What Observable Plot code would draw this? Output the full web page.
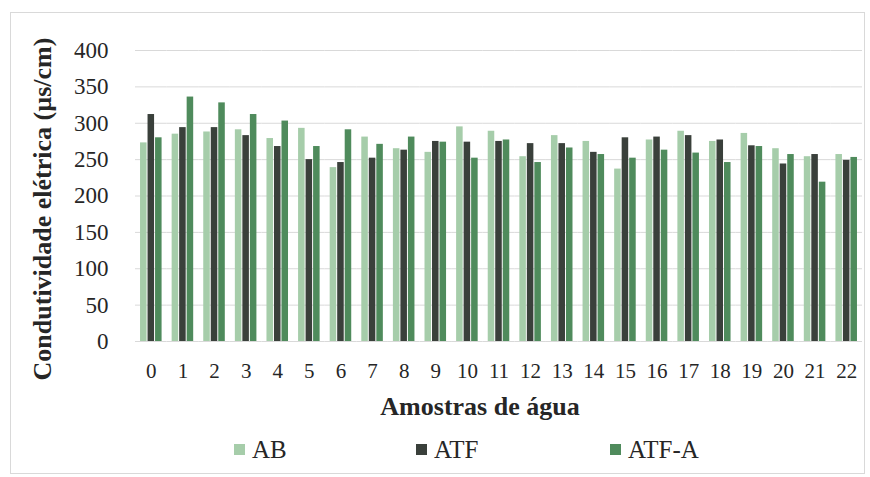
<!DOCTYPE html>
<html>
<head>
<meta charset="utf-8">
<script src="https://cdn.jsdelivr.net/npm/d3@7"></script>
<script src="https://cdn.jsdelivr.net/npm/@observablehq/plot@0.6"></script>
<style>
  html, body { margin: 0; padding: 0; background: #fff; }
  #chart {
    position: relative; width: 870px; height: 477px; overflow: hidden;
    font-family: "Liberation Serif", "DejaVu Serif", serif; color: #262626;
  }
  #frame {
    position: absolute; left: 10px; top: 12px; width: 855px; height: 462px;
    border: 1px solid #d9d9d9; box-sizing: border-box;
  }
  #plot { position: absolute; left: 0; top: 0; }
  #plot svg { font-family: "Liberation Serif", "DejaVu Serif", serif; }
  #plot g[aria-label^="y-axis"] text { font-size: 23px; fill: #262626; }
  #plot g[aria-label^="fx-axis"] text { font-size: 21px; fill: #262626; }
  #ylabel {
    position: absolute; left: 43px; top: 209px; white-space: nowrap;
    transform: translate(-50%, -50%) rotate(-90deg);
    font-weight: bold; font-size: 26px; line-height: 1;
  }
  #xlabel {
    position: absolute; left: 480px; top: 407px; transform: translate(-50%, -50%);
    font-weight: bold; font-size: 26px; line-height: 1; white-space: nowrap;
  }
  #legend {
    position: absolute; left: 234px; top: 437px; display: flex; align-items: center;
    font-size: 25px; line-height: 25px;
  }
  #legend .item { display: flex; align-items: center; }
  #legend .sw { width: 11px; height: 11px; margin-right: 7px; }
</style>
</head>
<body>
<div id="chart">
  <div id="frame"></div>
  <div id="plot"></div>
  <div id="ylabel">Condutividade elétrica (µs/cm)</div>
  <div id="xlabel">Amostras de água</div>
  <div id="legend"></div>
</div>
<script>
// Water samples 0–22 and their electrical conductivity (µs/cm) per treatment
const samples = d3.range(0, 23);
const seriesNames = ["AB", "ATF", "ATF-A"];
const valuesAB   = [273, 285, 288, 291, 279, 293, 239, 281, 265, 260, 295, 289, 254, 283, 275, 237, 277, 289, 275, 286, 265, 254, 257];
const valuesATF  = [312, 294, 294, 283, 268, 250, 246, 252, 263, 275, 274, 275, 272, 272, 260, 280, 281, 283, 277, 269, 244, 257, 249];
const valuesATFA = [280, 336, 328, 312, 303, 268, 291, 271, 281, 274, 252, 277, 246, 266, 257, 252, 263, 259, 246, 268, 257, 219, 253];
const yTicks = [0, 50, 100, 150, 200, 250, 300, 350, 400];
const colors = ["#a6cdaa", "#3a403b", "#4f8b5c"];

const bySeries = [valuesAB, valuesATF, valuesATFA];
const rows = [];
samples.forEach((s, i) => {
  seriesNames.forEach((name, k) => rows.push({sample: s, series: name, value: bySeries[k][i]}));
});

const chart = Plot.plot({
  width: 870,
  height: 390,
  marginLeft: 135,
  marginRight: 8,
  marginTop: 50,
  marginBottom: 49,
  fx: {domain: samples, padding: 0, round: false, axis: "bottom", tickSize: 0, tickPadding: 22, label: null},
  x: {domain: seriesNames, paddingInner: 0.13, paddingOuter: 0.67, round: false, axis: null},
  y: {domain: [0, 400], ticks: yTicks, tickSize: 0, tickPadding: 27, label: null},
  color: {domain: seriesNames, range: colors},
  marks: [
    Plot.ruleY(yTicks, {stroke: "#d9d9d9", strokeWidth: 1}),
    Plot.barY(rows, {fx: "sample", x: "series", y: "value", fill: "series"})
  ]
});
document.getElementById("plot").appendChild(chart);

// Legend below the chart
const legend = d3.select("#legend");
const itemWidths = [182, 194, null];
seriesNames.forEach((name, k) => {
  const item = legend.append("div").attr("class", "item");
  if (itemWidths[k]) item.style("width", itemWidths[k] + "px");
  item.append("div").attr("class", "sw").style("background", colors[k]);
  item.append("span").text(name);
});
</script>
</body>
</html>
